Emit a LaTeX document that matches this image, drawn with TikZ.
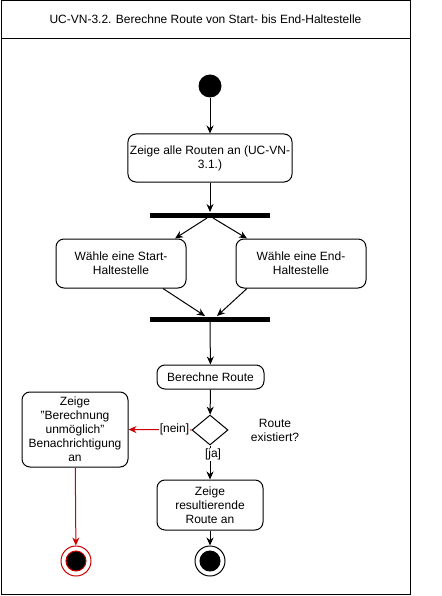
\documentclass[tikz,border=0pt]{standalone}
\usepackage{fontspec}
\setmainfont{Liberation Sans}
\usepackage{tikz}
\usetikzlibrary{positioning}
\usetikzlibrary{shapes.geometric}
\usetikzlibrary{arrows.meta}
\definecolor{failred}{RGB}{204,0,0}

\begin{document}
\begin{tikzpicture}[x=1pt, y=-1pt, line width=1pt,
    font=\fontsize{12}{14}\selectfont,
    actbox/.style={draw, rounded corners=8pt, align=center, inner sep=2pt},
    syncbar/.style={fill=black, inner sep=0pt, minimum width=120pt, minimum height=5pt},
    flow/.style={-{Stealth[length=8pt,width=7pt]}},
    guard/.style={fill=white, inner sep=1pt},
    finalring/.style={circle, draw, minimum size=30pt, inner sep=0pt},
    finaldot/.style={circle, draw, fill=black, minimum size=20pt, inner sep=0pt}]

    \useasboundingbox (0,0) rectangle (441,596);

    % frame and title
    \draw (1,1) rectangle (410,594);
    \draw (1,39) -- (410,39);
    \node (title) at (205.5,19) {UC-VN-3.2. Berechne Route von Start- bis End-Haltestelle};

    % the activities
    \node[circle, fill=black, minimum size=23pt, inner sep=0pt] (init) at (210,86) {};
    \node[actbox, minimum width=164pt, minimum height=48pt] (routes) at (210,158) {Zeige alle Routen an (UC-VN-\\3.1.)};
    \node[syncbar] (fork) at (210,215) {};

    \foreach \x/\name/\id in {{121/Start-/pickstart}, {301/End-/pickend}}
        \node[actbox, minimum width=130pt, minimum height=49pt] (\id) at (\x,263.5) {Wähle eine \name\\Haltestelle};

    \node[syncbar] (join) at (210,319) {};
    \node[actbox, minimum width=107pt, minimum height=24pt] (calc) at (210.5,377) {Berechne Route};
    \node[diamond, draw, minimum width=36pt, minimum height=30pt, inner sep=0pt] (check) at (210,430) {};
    \node[align=center] (question) at (275,430) {Route\\existiert?};

    \node[actbox, minimum width=106pt, minimum height=75pt] (fail) at (75,429.5) {Zeige\\"Berechnung\\unmöglich"\\Benachrichtigung\\an};
    \node[actbox, minimum width=106pt, minimum height=50pt] (result) at (210,505) {Zeige\\resultierende\\Route an};

    \node[finalring, draw=failred] (endfail) at (76,561) {};
    \node[finaldot, draw=failred] at (endfail) {};
    \node[finalring] (endok) at (210,561) {};
    \node[finaldot] at (endok) {};

    % connectors
    \draw[flow] (init) -- (routes);
    \draw[flow] (routes) -- (fork);
    \draw[flow] ([xshift=-3pt]fork.south) -- ([xshift=54pt]pickstart.north);
    \draw[flow] ([xshift=3pt]fork.south) -- ([xshift=-54pt]pickend.north);
    \draw[flow] ([xshift=42pt]pickstart.south) -- ([xshift=-5pt]join.north);
    \draw[flow] ([xshift=-54pt]pickend.south) -- ([xshift=7pt]join.north);
    \draw[flow] (join) -- (calc);
    \draw[flow] (calc) -- (check);
    \draw[flow] (check.south) -- (result.north) node[guard, pos=0.27, xshift=3pt] {[ja]};
    \draw[flow, failred] (check.west) -- (fail.east) node[guard, text=black, pos=0.27] {[nein]};
    \draw[flow, failred] (fail) -- (endfail);
    \draw[flow] (result) -- (endok);

\end{tikzpicture}
\end{document}
